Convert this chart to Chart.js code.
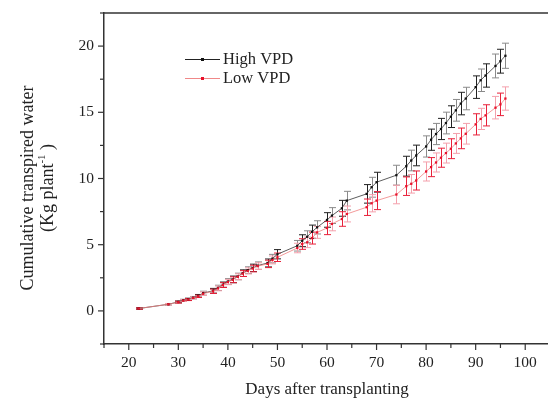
<!DOCTYPE html>
<html>
<head>
<meta charset="utf-8">
<script src="https://cdn.jsdelivr.net/npm/chart.js@4/dist/chart.umd.min.js"></script>
<style>
html,body{margin:0;padding:0;background:#fff;overflow:hidden;}
#wrap{width:554px;height:400px;position:relative;}
</style>
</head>
<body>
<div id="wrap"><canvas id="c" width="554" height="400"></canvas></div>
<script>
const days = [22,28,30,31,32,33,34,35,37,38,39,40,41,42,43,44,45,46,48,49,50,54,55,56,57,58,60,61,63,64,68,69,70,74,76,77,78,80,81,82,83,84,85,86,87,88,90,91,92,94,95,96];
const highVPD = [0.18,0.5,0.68,0.8,0.88,1.0,1.14,1.34,1.52,1.74,1.98,2.22,2.38,2.6,2.85,3.08,3.25,3.42,3.62,3.95,4.28,4.92,5.3,5.6,5.98,6.31,6.87,7.2,7.75,8.33,8.84,9.34,9.72,10.25,10.93,11.36,11.74,12.42,12.93,13.36,13.74,14.19,14.67,15.15,15.66,16.04,16.9,17.42,17.78,18.5,18.86,19.27];
const highErr = [0.05,0.06,0.07,0.08,0.08,0.09,0.1,0.15,0.18,0.2,0.2,0.22,0.25,0.25,0.25,0.25,0.28,0.28,0.3,0.32,0.35,0.4,0.45,0.45,0.5,0.5,0.55,0.6,0.6,0.7,0.7,0.75,0.75,0.75,0.75,0.78,0.78,0.8,0.8,0.8,0.8,0.82,0.82,0.82,0.85,0.85,0.85,0.85,0.88,0.9,0.9,0.95];
const lowVPD = [0.18,0.5,0.66,0.78,0.86,0.98,1.1,1.3,1.48,1.7,1.95,2.18,2.35,2.58,2.82,3.02,3.2,3.38,3.55,3.85,4.05,4.75,5.05,5.18,5.5,5.93,6.26,6.57,6.94,7.32,7.83,8.13,8.33,8.79,9.42,9.6,9.85,10.53,10.86,11.21,11.57,11.92,12.25,12.65,13.03,13.38,14.09,14.5,14.77,15.35,15.6,16.04];
const lowErr = [0.05,0.06,0.07,0.07,0.08,0.08,0.09,0.13,0.16,0.18,0.18,0.2,0.22,0.22,0.22,0.23,0.25,0.25,0.28,0.3,0.32,0.36,0.4,0.4,0.45,0.45,0.5,0.52,0.55,0.6,0.62,0.65,0.68,0.7,0.7,0.7,0.72,0.72,0.72,0.72,0.72,0.75,0.75,0.75,0.78,0.78,0.8,0.8,0.8,0.85,0.85,0.88];
const xTicks = [20,30,40,50,60,70,80,90,100];
const yTicks = [0,5,10,15,20];
const seriesNames = ['High VPD','Low VPD'];

const SERIF = '"Liberation Serif","Times New Roman",serif';
const AX = '#333';

const errorBars = {
  id:'errorBars',
  beforeDatasetsDraw(chart){
    const ctx = chart.ctx, xs = chart.scales.x, ys = chart.scales.y;
    const sets = [
      {vals: highVPD, err: highErr, cols:['#222','#8a8a8a']},
      {vals: lowVPD, err: lowErr, cols:['#e8203a','#f4a0ac']}
    ];
    ctx.save();
    ctx.lineWidth = 1;
    sets.forEach(s => {
      days.forEach((d,i) => {
        const x = Math.round(xs.getPixelForValue(d)) + 0.5;
        const y1 = ys.getPixelForValue(s.vals[i] + s.err[i]);
        const y2 = ys.getPixelForValue(s.vals[i] - s.err[i]);
        ctx.strokeStyle = s.cols[i % 2];
        ctx.beginPath();
        ctx.moveTo(x, y1); ctx.lineTo(x, y2);
        ctx.moveTo(x-3.5, y1); ctx.lineTo(x+3.5, y1);
        ctx.moveTo(x-3.5, y2); ctx.lineTo(x+3.5, y2);
        ctx.stroke();
      });
    });
    ctx.restore();
  }
};

const decor = {
  id:'decor',
  afterDraw(chart){
    const ctx = chart.ctx, xs = chart.scales.x, ys = chart.scales.y, a = chart.chartArea;
    ctx.save();
    ctx.strokeStyle = AX;
    ctx.lineWidth = 1.5;
    ctx.beginPath(); ctx.moveTo(a.left, a.top); ctx.lineTo(a.right, a.top); ctx.stroke();
    ctx.lineWidth = 1.2;
    xs.ticks.forEach(t => {
      const x = xs.getPixelForValue(t.value);
      const major = t.value % 10 === 0;
      ctx.beginPath(); ctx.moveTo(x, a.bottom); ctx.lineTo(x, a.bottom + (major ? 6 : 4)); ctx.stroke();
    });
    ys.ticks.forEach(t => {
      const y = ys.getPixelForValue(t.value);
      const major = t.value % 5 === 0;
      ctx.beginPath(); ctx.moveTo(a.left, y); ctx.lineTo(a.left - (major ? 6 : 4), y); ctx.stroke();
    });
    ctx.fillStyle = '#222';
    ctx.translate(28, 188);
    ctx.rotate(-Math.PI/2);
    ctx.font = '18px ' + SERIF;
    ctx.textAlign = 'center'; ctx.textBaseline = 'middle';
    ctx.fillText('Cumulative transpired water', 0, 0);
    const p1 = '(Kg plant', sup = '-1', p2 = ' )';
    const w1 = ctx.measureText(p1).width, w3 = ctx.measureText(p2).width;
    ctx.font = '11px ' + SERIF;
    const w2 = ctx.measureText(sup).width;
    const tot = w1 + w2 + w3;
    ctx.textAlign = 'left';
    ctx.font = '18px ' + SERIF;
    ctx.fillText(p1, -tot/2, 20);
    ctx.font = '11px ' + SERIF;
    ctx.fillText(sup, -tot/2 + w1, 14);
    ctx.font = '18px ' + SERIF;
    ctx.fillText(p2, -tot/2 + w1 + w2, 20);
    ctx.restore();

    ctx.save();
    const items = [
      {name: seriesNames[0], line:'#222', pt:'#111', y:59},
      {name: seriesNames[1], line:'#f08888', pt:'#e8102a', y:78}
    ];
    items.forEach(it => {
      ctx.strokeStyle = it.line; ctx.lineWidth = 1;
      ctx.beginPath(); ctx.moveTo(185, it.y + 0.5); ctx.lineTo(220, it.y + 0.5); ctx.stroke();
      ctx.fillStyle = it.pt; ctx.fillRect(201, it.y - 1, 3, 3);
      ctx.fillStyle = '#222';
      ctx.font = '16.5px ' + SERIF;
      ctx.textAlign = 'left'; ctx.textBaseline = 'middle';
      ctx.fillText(it.name, 223, it.y + 1);
    });
    ctx.restore();
  }
};

new Chart(document.getElementById('c'), {
  type:'line',
  data:{
    datasets:[
      {label: seriesNames[0], data: days.map((d,i)=>({x:d,y:highVPD[i]})), borderColor:'#333', borderWidth:0.8,
       pointStyle:'rect', pointRadius:1.6, pointBackgroundColor:'#111', pointBorderColor:'#111', pointBorderWidth:0, order:2},
      {label: seriesNames[1], data: days.map((d,i)=>({x:d,y:lowVPD[i]})), borderColor:'#f08080', borderWidth:0.8,
       pointStyle:'rect', pointRadius:1.6, pointBackgroundColor:'#e8102a', pointBorderColor:'#e8102a', pointBorderWidth:0, order:1}
    ]
  },
  options:{
    responsive:false, animation:false, devicePixelRatio:1,
    layout:{padding:{top:13,right:0,left:0,bottom:0}},
    plugins:{legend:{display:false}, tooltip:{enabled:false}},
    elements:{line:{tension:0}},
    scales:{
      x:{type:'linear', min:15, max:105,
        grid:{display:false, drawTicks:false}, border:{display:true, color:AX, width:1.5},
        ticks:{stepSize:5, autoSkip:false, maxRotation:0, padding:10, color:'#222',
          font:{family:SERIF, size:15.5},
          callback:(v)=> xTicks.includes(v) ? String(v) : ''},
        title:{display:true, text:'Days after transplanting', color:'#222', font:{family:SERIF, size:17}, padding:{top:0,bottom:0}},
        afterFit:(s)=>{ s.height = 56; s.paddingLeft = 0; s.paddingRight = 0; }
      },
      y:{type:'linear', min:-2.5, max:22.5,
        grid:{display:false, drawTicks:false}, border:{display:true, color:AX, width:1.5},
        ticks:{stepSize:2.5, autoSkip:false, padding:10, color:'#222',
          font:{family:SERIF, size:15.5},
          callback:(v)=> yTicks.includes(v) ? String(v) : ''},
        afterFit:(s)=>{ s.width = 104; s.paddingTop = 0; s.paddingBottom = 0; }
      }
    }
  },
  plugins:[errorBars, decor]
});
</script>
</body>
</html>
